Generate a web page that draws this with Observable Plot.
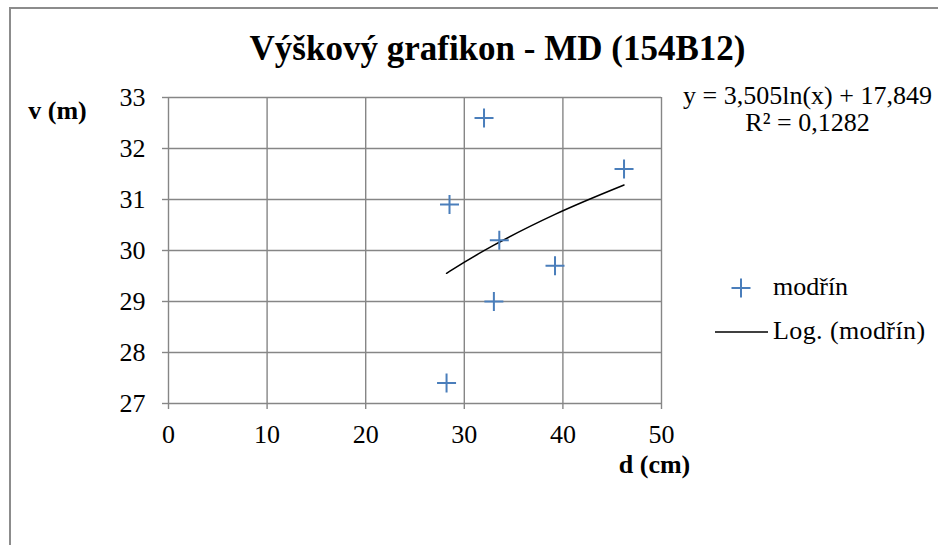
<!DOCTYPE html>
<html><head><meta charset="utf-8">
<script src="https://cdn.jsdelivr.net/npm/d3@7"></script>
<script src="https://cdn.jsdelivr.net/npm/@observablehq/plot@0.6"></script>
<style>
html,body{margin:0;padding:0;background:#fff;overflow:hidden;}
#wrap{position:relative;width:938px;height:545px;font-family:'Liberation Serif',Tinos,'Times New Roman','DejaVu Serif',serif;color:#000;}
#frame{position:absolute;left:9px;top:7px;width:1200px;height:800px;border-left:2px solid #8c8c8c;border-top:2px solid #8c8c8c;pointer-events:none;}
#chart{position:absolute;left:0;top:0;}
#chart svg{font-family:'Liberation Serif',Tinos,'Times New Roman','DejaVu Serif',serif !important;}
.lg{position:absolute;font-size:26px;line-height:26px;white-space:nowrap;}
.sym{position:absolute;}
</style></head>
<body>
<div id="wrap"><div id="chart"></div><div id="frame"></div>
<svg class="sym" style="left:731px;top:278px" width="20" height="20"><path d="M0.5,10H19.5M10,0.5V19.5" stroke="#4a7ebb" stroke-width="2" fill="none"/></svg>
<div class="lg" style="left:773px;top:274px">modřín</div>
<svg class="sym" style="left:715px;top:328px" width="54" height="8"><path d="M0,4H53" stroke="#000" stroke-width="1.5"/></svg>
<div class="lg" style="left:773px;top:318px;letter-spacing:0.4px">Log. (modřín)</div>
</div>
<script>
const diameters = [32.0, 46.2, 28.5, 33.55, 39.2, 33.0, 28.2];
const heights   = [32.6, 31.6, 30.9, 30.2, 29.7, 29.0, 27.4];
const xTicks = [0, 10, 20, 30, 40, 50];
const yTicks = [27, 28, 29, 30, 31, 32, 33];
const trendA = 3.505, trendB = 17.849;   // y = 3,505ln(x) + 17,849
const titleText = "Výškový grafikon - MD (154B12)";
const eqText = "y = 3,505ln(x) + 17,849";
const r2Text = "R² = 0,1282";

const points = diameters.map((d, i) => ({d, v: heights[i]}));
const trend = [...diameters].sort((a, b) => a - b).map(d => ({d, v: trendA * Math.log(d) + trendB}));

const plusSymbol = {
  draw(ctx, size) {
    const r = Math.sqrt(size / Math.PI);
    ctx.moveTo(-r, 0); ctx.lineTo(r, 0);
    ctx.moveTo(0, -r); ctx.lineTo(0, r);
  }
};

const font = "'Liberation Serif', Tinos, 'Times New Roman', 'DejaVu Serif', serif";
const grid = {stroke: "#868686", strokeOpacity: 1, strokeWidth: 1.4};

const chart = Plot.plot({
  width: 938, height: 545,
  marginLeft: 168, marginRight: 277, marginTop: 97, marginBottom: 142,
  style: {fontFamily: font, fontSize: "26px", background: "transparent", color: "#000"},
  x: {domain: [0, 50]},
  y: {domain: [27, 33]},
  marks: [
    Plot.gridX(xTicks, grid),
    Plot.gridY(yTicks, grid),
    Plot.axisX(xTicks, {tickSize: 6, tickPadding: 15, stroke: "#868686", strokeWidth: 1.4, fill: "#000", fontSize: 26, label: null, tickFormat: d => String(d)}),
    Plot.axisY(yTicks, {tickSize: 6, tickPadding: 17, stroke: "#868686", strokeWidth: 1.4, fill: "#000", fontSize: 26, label: null, tickFormat: d => String(d)}),
    Plot.line(trend, {x: "d", y: "v", stroke: "#000", strokeWidth: 1.5, curve: "monotone-x"}),
    Plot.dot(points, {x: "d", y: "v", symbol: plusSymbol, r: 9.5, stroke: "#4a7ebb", strokeWidth: 2, fill: "none"}),
    Plot.text([titleText], {frameAnchor: "top-left", dx: 329, dy: -62, text: d => d, textAnchor: "middle", fontSize: 35, fontWeight: "bold", fill: "#000"}),
    Plot.text(["v (m)"], {frameAnchor: "top-left", dx: -111, dy: 3, text: d => d, textAnchor: "middle", fontSize: 26, fontWeight: "bold", fill: "#000"}),
    Plot.text(["d (cm)"], {frameAnchor: "top-left", dx: 486, dy: 357, text: d => d, textAnchor: "middle", fontSize: 26, fontWeight: "bold", fill: "#000"}),
    Plot.text([eqText], {frameAnchor: "top-left", dx: 639, dy: -12, text: d => d, textAnchor: "middle", fontSize: 26, fill: "#000"}),
    Plot.text([r2Text], {frameAnchor: "top-left", dx: 639, dy: 15, text: d => d, textAnchor: "middle", fontSize: 26, fill: "#000"})
  ]
});
document.getElementById("chart").appendChild(chart);
</script>
</body></html>
